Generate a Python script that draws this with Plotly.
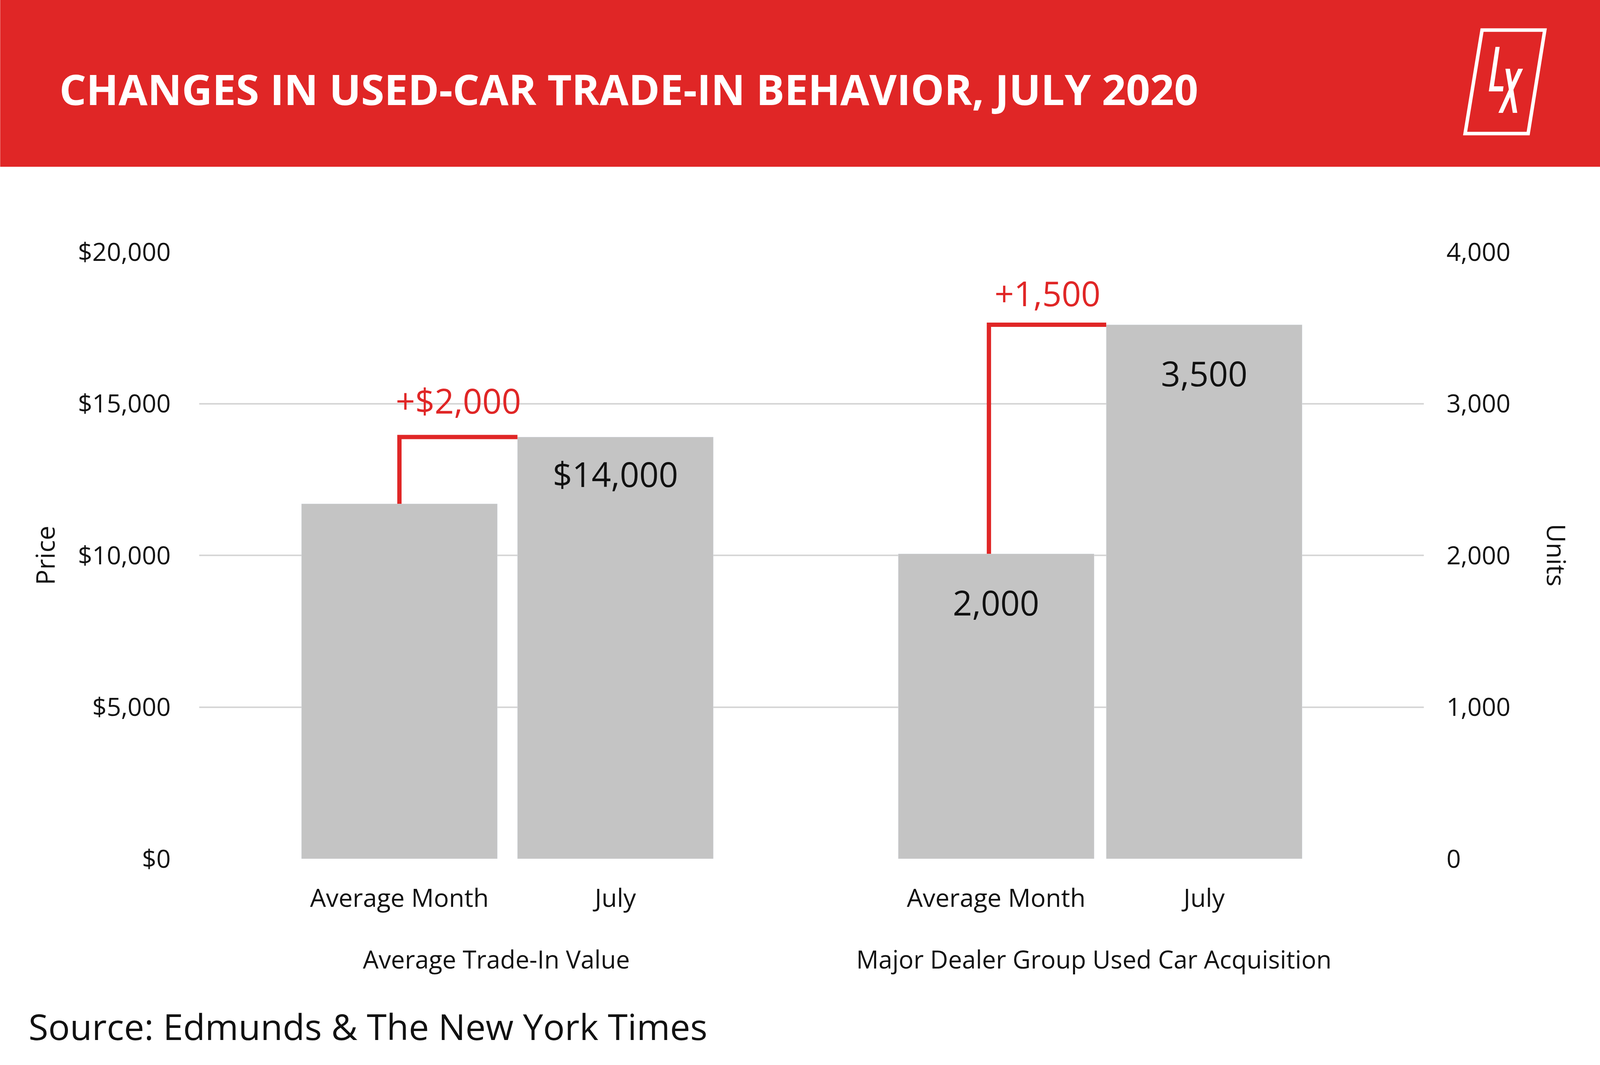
import plotly.graph_objects as go

# data
periods = ["Average Month", "July"]
trade_in_value = [11700, 13900]          # USD, left axis
trade_in_labels = ["", "$14,000"]
trade_in_change = "+$2,000"
acquisition_units = [2010, 3520]         # units, right axis
acquisition_labels = ["2,000", "3,500"]
acquisition_change = "+1,500"
group_names = ["Average Trade-In Value", "Major Dealer Group Used Car Acquisition"]

RED = "#E02626"
GRAY = "#C4C4C4"
GRID = "#D6D6D6"
INK = "#111111"
FONT = "Open Sans"

# layout is measured in reference pixels (5000 x 2727); the browser viewport
# is 4096 x 2727, so horizontal measures are squeezed to fit it
W, H = 5000, 2727
VW = 4096
SX = VW / W
FS = 0.87      # font scale
ML, MR, MT, MB = 622, 551, 645, 528


def px(x):
    """reference pixel x -> paper x"""
    return (x - ML) / (W - ML - MR)


def py(y):
    """reference pixel y -> paper y"""
    return 1 - (y - MT) / (H - MT - MB)


def poly(points):
    return "M " + " L ".join(f"{px(x)},{py(y)}" for x, y in points) + " Z"


def font(size, color=INK, **kw):
    return dict(family=FONT, size=size * FS, color=color, **kw)


w_left, w_right = 0.907, 0.942

fig = go.Figure()
fig.add_bar(x=periods, y=trade_in_value, width=w_left, marker_color=GRAY,
            xaxis="x", yaxis="y", hoverinfo="skip")
fig.add_bar(x=periods, y=acquisition_units, width=w_right, marker_color=GRAY,
            xaxis="x2", yaxis="y2", hoverinfo="skip")

shapes = [
    # header band
    dict(type="rect", xref="paper", yref="paper", x0=px(0), x1=px(W), y0=py(427), y1=py(0),
         fillcolor=RED, line_width=0, layer="below"),
    # logo frame
    dict(type="path", xref="paper", yref="paper",
         path=poly([(4631, 77), (4827, 77), (4775, 342), (4578, 342)]),
         line=dict(color="white", width=9)),
    # logo L
    dict(type="path", xref="paper", yref="paper", fillcolor="white", line_width=0,
         path=poly([(4673, 120), (4686, 120), (4668, 221), (4698, 221), (4696, 234), (4652, 234)])),
    # logo X
    dict(type="path", xref="paper", yref="paper", fillcolor="white", line_width=0,
         path=poly([(4704, 176), (4718, 176), (4741, 289), (4727, 289)])),
    dict(type="path", xref="paper", yref="paper", fillcolor="white", line_width=0,
         path=poly([(4744, 176), (4759, 176), (4696, 289), (4682, 289)])),
]

groups = [
    # axes, values, value labels, change label, bar width, connector x, label x, label shifts
    ("x", "y", trade_in_value, trade_in_labels, trade_in_change, w_left, 0.0, 0.45, -33, 33),
    ("x2", "y2", acquisition_units, acquisition_labels, acquisition_change, w_right, -0.035, 0.47, -63, 20),
]

annotations = [
    dict(text="CHANGES IN USED-CAR TRADE-IN BEHAVIOR, JULY 2020", xref="paper", yref="paper",
         x=px(182), y=py(227), xanchor="left", yanchor="middle", showarrow=False,
         font=font(124, "white", weight=700)),
    dict(text="Source: Edmunds & The New York Times", xref="paper", yref="paper",
         x=px(86), y=py(2627), xanchor="left", yanchor="middle", showarrow=False,
         font=font(106)),
    dict(text="Price", xref="paper", yref="paper", x=px(139), y=py(1422), textangle=-90,
         xanchor="center", yanchor="middle", showarrow=False, font=font(76)),
    dict(text="Units", xref="paper", yref="paper", x=px(4865), y=py(1422), textangle=90,
         xanchor="center", yanchor="middle", showarrow=False, font=font(76)),
]

for (xa, ya, vals, labels, change, w, cx, gx, vshift, cshift), name in zip(groups, group_names):
    # red step connector from the average bar up to the July bar
    shapes.append(dict(type="path", xref=xa, yref=ya,
                       path=f"M {cx},{vals[0]} L {cx},{vals[1]} L {1 - w / 2},{vals[1]}",
                       line=dict(color=RED, width=11)))
    annotations.append(dict(text=change, xref=xa, yref=ya, x=(cx + 1 - w / 2) / 2, y=vals[1],
                            xanchor="center", yanchor="bottom", yshift=cshift,
                            showarrow=False, font=font(100, RED)))
    for i, (v, lab) in enumerate(zip(vals, labels)):
        if lab:
            annotations.append(dict(text=lab, xref=xa, yref=ya, x=i, y=v,
                                    xanchor="center", yanchor="top", yshift=vshift,
                                    showarrow=False, font=font(100)))
    annotations.append(dict(text=name, xref=xa, yref="paper", x=gx, y=py(2455),
                            xanchor="center", yanchor="middle", showarrow=False,
                            font=font(73)))

tick_font = font(74)
xcommon = dict(type="category", showgrid=False, showline=False, zeroline=False,
               ticks="", tickfont=tick_font, ticklabelstandoff=58, automargin=False)
ycommon = dict(showgrid=True, gridcolor=GRID, gridwidth=4, zeroline=False, showline=False,
               ticks="", tickfont=tick_font, automargin=False)

fig.update_layout(
    width=VW, height=H,
    margin=dict(l=ML * SX, r=MR * SX, t=MT, b=MB),
    paper_bgcolor="white", plot_bgcolor="white",
    showlegend=False,
    font=dict(family=FONT),
    xaxis=dict(domain=[0, 0.4954], anchor="y", range=[-0.927, 1.882], **xcommon),
    xaxis2=dict(domain=[0.4954, 1], anchor="y2", range=[-0.915, 2.056], **xcommon),
    yaxis=dict(anchor="x", range=[0, 20000], dtick=5000, tickprefix="$", tickformat=",d",
               ticklabelstandoff=int(88 * SX), **ycommon),
    yaxis2=dict(anchor="x2", side="right", range=[0, 4000], dtick=1000, tickformat=",d",
                ticklabelstandoff=int(70 * SX), **ycommon),
    shapes=shapes,
    annotations=annotations,
)

fig.write_html("out.html", config={"displayModeBar": False},
               post_script="document.body.style.margin = '0';")
